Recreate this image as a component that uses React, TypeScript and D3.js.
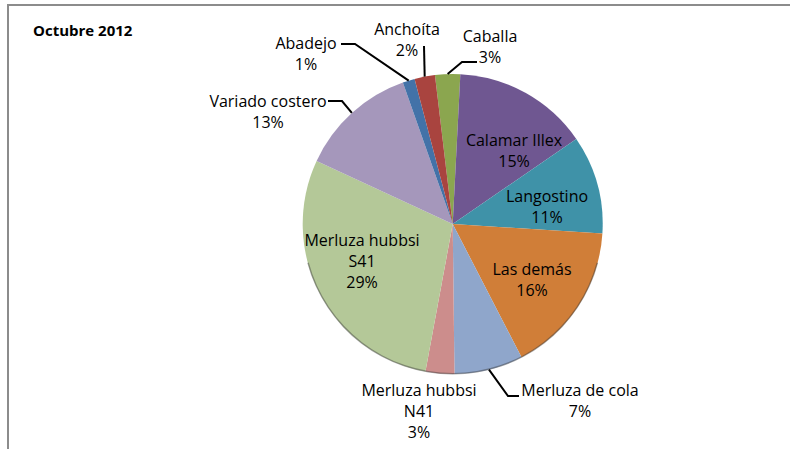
import React from "react";
import * as d3 from "d3";

// species and their share of the catch
const categories = [
  "Caballa",
  "Calamar Illex",
  "Langostino",
  "Las demás",
  "Merluza de cola",
  "Merluza hubbsi N41",
  "Merluza hubbsi S41",
  "Variado costero",
  "Abadejo",
  "Anchoíta",
];
const shares = [2.7, 14.6, 10.6, 16.4, 7.4, 3.1, 29.0, 12.7, 1.3, 2.2];
const labelLines = [
  ["Caballa"],
  ["Calamar Illex"],
  ["Langostino"],
  ["Las demás"],
  ["Merluza de cola"],
  ["Merluza hubbsi", "N41"],
  ["Merluza hubbsi", "S41"],
  ["Variado costero"],
  ["Abadejo"],
  ["Anchoíta"],
];
const title = "Octubre 2012";

const colors = [
  "#8ba64f",
  "#6f5791",
  "#3f92a8",
  "#d07e38",
  "#8fa6cb",
  "#cc8d8c",
  "#b4c898",
  "#a597bb",
  "#4372a8",
  "#a9443f",
];

const W = 790;
const H = 449;
const cx = 452.7;
const cy = 224;
const R = 150;
const startDeg = -6.8;
const font = "'Open Sans', sans-serif";
const lineH = 21;

// label layout: centre x and first baseline, plus leader elbow points
const labelLayout: Record<string, { x: number; y: number; leader?: [number, number][] }> = {
  Caballa: { x: 490, y: 42, leader: [[477, 62], [462, 62]] },
  "Calamar Illex": { x: 514, y: 146 },
  Langostino: { x: 547, y: 202 },
  "Las demás": { x: 532, y: 275 },
  "Merluza de cola": { x: 580, y: 396, leader: [[519, 396], [508, 396]] },
  "Merluza hubbsi N41": { x: 419, y: 396 },
  "Merluza hubbsi S41": { x: 362, y: 246 },
  "Variado costero": { x: 268, y: 107, leader: [[328, 101], [342, 101]] },
  Abadejo: { x: 306, y: 49, leader: [[341, 44], [355, 44]] },
  "Anchoíta": { x: 407, y: 35, leader: [[424, 46]] },
};

export default function App() {
  const rad = (startDeg * Math.PI) / 180;
  const pie = d3
    .pie<number>()
    .sort(null)
    .value((d) => d)
    .startAngle(rad)
    .endAngle(rad + 2 * Math.PI);
  const arcs = pie(shares);
  const arc = d3.arc<d3.PieArcDatum<number>>().innerRadius(0).outerRadius(R);

  const edgePoint = (a: d3.PieArcDatum<number>): [number, number] => {
    const m = (a.startAngle + a.endAngle) / 2;
    return [cx + R * Math.sin(m), cy - R * Math.cos(m)];
  };

  const rim = d3
    .arc()
    .innerRadius(R - 1)
    .outerRadius(R + 0.5)
    .startAngle((105 * Math.PI) / 180)
    .endAngle((255 * Math.PI) / 180);

  return (
    <div style={{ position: "absolute", left: 0, top: 0 }}>
      <svg width={W} height={H} style={{ display: "block", background: "#fff" }}>
        <path d={`M8,${H} V5 H${W}`} fill="none" stroke="#8c8c8c" strokeWidth={2} />
        <text x={33} y={36} fontFamily={font} fontWeight="bold" fontSize={15} fill="#000">
          {title}
        </text>
        <g transform={`translate(${cx},${cy})`}>
          {arcs.map((a, i) => (
            <path key={categories[i]} d={arc(a) || ""} fill={colors[i]} />
          ))}
          <path d={(rim as any)()} fill="#3a3a3a" opacity={0.45} />
        </g>
        {arcs.map((a, i) => {
          const lay = labelLayout[categories[i]];
          if (!lay.leader) return null;
          const pts = [...lay.leader, edgePoint(a)];
          return (
            <path
              key={"l" + i}
              d={d3.line()(pts) || ""}
              fill="none"
              stroke="#000"
              strokeWidth={2}
            />
          );
        })}
        {arcs.map((a, i) => {
          const lay = labelLayout[categories[i]];
          const lines = [...labelLines[i], `${Math.round(shares[i])}%`];
          return (
            <text
              key={"t" + i}
              x={lay.x}
              y={lay.y}
              textAnchor="middle"
              fontFamily={font}
              fontSize={16}
              fill="#000"
            >
              {lines.map((s, j) => (
                <tspan key={j} x={lay.x} dy={j === 0 ? 0 : lineH}>
                  {s}
                </tspan>
              ))}
            </text>
          );
        })}
      </svg>
    </div>
  );
}
